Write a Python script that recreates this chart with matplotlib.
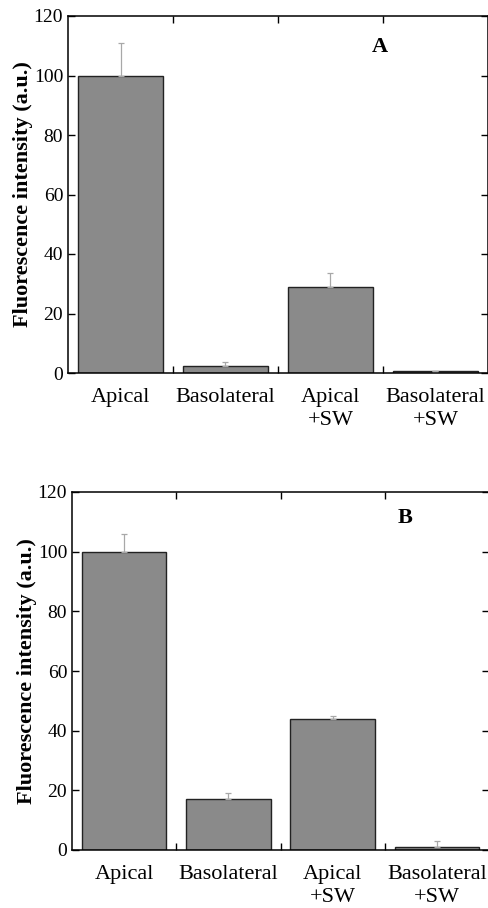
import matplotlib
matplotlib.use("Agg")
import matplotlib.pyplot as plt
import numpy as np

categories = ["Apical", "Basolateral", "Apical\n+SW", "Basolateral\n+SW"]

# panel A
values_a = [100, 2.5, 29, 0.8]
errors_a = [11, 1.2, 4.7, 0]

# panel B
values_b = [100, 17, 44, 1]
errors_b = [5.8, 2, 0.8, 1.9]

yticks = [0, 20, 40, 60, 80, 100, 120]

plt.rcParams["font.family"] = ["Liberation Serif", "DejaVu Serif"]

W, H = 489, 908
fig = plt.figure(figsize=(W / 100, H / 100), dpi=100)


def panel(rect_px, values, errors, letter, letter_xy):
    left, top, right, bottom = rect_px
    ax = fig.add_axes([left / W, 1 - bottom / H, (right - left) / W, (bottom - top) / H])
    x = np.arange(len(values)) + 0.5
    ax.bar(x, values, width=0.81, color="#8a8a8a", edgecolor="#222222", linewidth=1.0, zorder=2)
    ax.errorbar(x, values, yerr=[np.zeros(len(errors)), errors], fmt="none",
                ecolor="#a8a8a8", elinewidth=0.9, capsize=2, capthick=0.9, zorder=3)
    ax.set_xlim(0, len(values))
    ax.set_ylim(0, 120)
    ax.set_yticks(yticks)
    ax.set_xticks([1, 2, 3])
    ax.set_xticklabels([])
    ax.set_xticks(x, minor=True)
    ax.set_xticklabels(categories, minor=True, fontsize=16, linespacing=1.25)
    ax.tick_params(axis="x", which="minor", length=0, pad=11)
    ax.tick_params(axis="both", which="major", direction="in", length=5, width=1,
                   top=True, right=True, labelsize=14)
    for s in ax.spines.values():
        s.set_linewidth(1.1)
    ax.set_ylabel("Fluorescence intensity (a.u.)", fontsize=16, fontweight="bold", labelpad=0.5)
    ax.text(letter_xy[0], letter_xy[1], letter, transform=ax.transAxes,
            fontsize=16, fontweight="bold", ha="center", va="center")
    return ax


panel((68, 16, 488, 373), values_a, errors_a, "A", ((380 - 68) / 420, (373 - 47) / 357))
panel((72, 492, 489, 850), values_b, errors_b, "B", ((405 - 72) / 417, (850 - 518) / 358))

fig.savefig("out.png", dpi=100)
